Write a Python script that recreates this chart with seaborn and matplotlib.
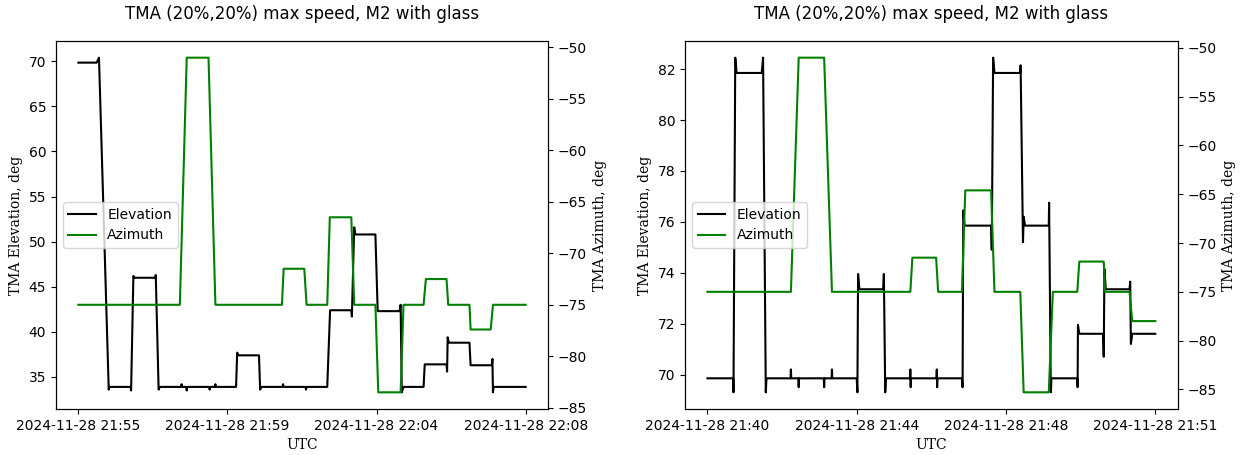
import numpy as np
import pandas as pd
import seaborn as sns
import matplotlib.pyplot as plt
import matplotlib.dates as mdates

# run 1: seconds after start, elevation / azimuth in deg
start1 = "2024-11-28 21:55:30"
dur1 = 780
el_t1 = [0, 32, 36, 53, 54, 91, 92, 96, 98, 134, 135, 140, 142, 179, 180, 181, 188, 189, 190,
         228, 229, 230, 238, 239, 240, 275, 277, 279, 315, 317, 319, 356, 357, 358, 396, 397, 398,
         434, 439, 476, 477, 481, 483, 518, 522, 560, 562, 564, 567, 602, 604, 642, 643, 644, 646,
         682, 684, 721, 722, 723, 724, 780]
el_v1 = [69.85, 69.85, 70.4, 33.6, 33.9, 33.9, 33.5, 46.2, 46.0, 46.0, 46.3, 33.6, 33.9, 33.9, 34.2, 33.9, 33.9, 33.5, 33.9,
         33.9, 33.6, 33.9, 33.9, 34.2, 33.9, 33.9, 37.7, 37.4, 37.4, 33.6, 33.9, 33.9, 34.2, 33.9, 33.9, 33.6, 33.9,
         33.9, 42.4, 42.4, 41.7, 51.6, 50.8, 50.8, 42.3, 42.3, 43.0, 33.3, 33.9, 33.9, 36.4, 36.4, 35.6, 39.4, 38.8,
         38.8, 36.3, 36.3, 37.0, 33.3, 33.9, 33.9]
az_t1 = [0, 177, 189, 227, 239, 355, 358, 394, 398, 434, 438.5, 476, 481, 518, 523, 562, 567,
         602, 606, 642, 645, 682, 684, 719, 723, 780]
az_v1 = [-75, -75, -51, -51, -75, -75, -71.5, -71.5, -75, -75, -66.5, -66.5, -75, -75, -83.5, -83.5, -75,
         -75, -72.5, -72.5, -75, -75, -77.4, -77.4, -75, -75]

# run 2
start2 = "2024-11-28 21:40:50"
dur2 = 660
el_t2 = [0, 38, 38.4, 41, 43, 80, 82, 86, 87,
         122.5, 123, 123.5, 134, 134.5, 135, 171.5, 172, 172.5, 183, 183.5, 184,
         220, 221, 222, 224, 259, 260, 262, 263, 298.5, 299, 299.5, 300, 337.5, 338, 338.5, 339,
         375, 376, 377, 379, 418, 419, 421, 423, 461, 461.5, 465, 466, 468, 503, 503.5, 506, 507,
         545, 545.5, 546, 548, 583, 584, 585, 587, 622, 623, 624, 626, 660]
el_v2 = [69.85, 69.85, 69.3, 82.45, 81.85, 81.85, 82.45, 69.3, 69.85,
         69.85, 70.2, 69.85, 69.85, 69.5, 69.85, 69.85, 69.5, 69.85, 69.85, 70.2, 69.85,
         69.85, 69.3, 73.95, 73.35, 73.35, 73.95, 69.3, 69.85, 69.85, 70.2, 69.5, 69.85, 69.85, 70.2, 69.5, 69.85,
         69.85, 69.5, 76.45, 75.85, 75.85, 74.9, 82.45, 81.85, 81.85, 82.15, 75.2, 76.2, 75.85, 75.85, 76.75, 69.3, 69.85,
         69.85, 69.5, 71.95, 71.6, 71.6, 70.7, 74.15, 73.35, 73.35, 73.65, 71.2, 71.6, 71.6]
az_t2 = [0, 123, 134.5, 172, 183.5, 299, 302, 337, 340, 375, 380, 418, 423, 461, 466, 503, 509,
         545, 548, 584, 586, 622, 626, 660]
az_v2 = [-75, -75, -51, -51, -75, -75, -71.5, -71.5, -75, -75, -64.6, -64.6, -75, -75, -85.3, -85.3, -75,
         -75, -71.9, -71.9, -75, -75, -78, -78]

runs = [(start1, dur1, el_t1, el_v1, az_t1, az_v1),
        (start2, dur2, el_t2, el_v2, az_t2, az_v2)]

fig = plt.figure(figsize=(12.41, 4.55), dpi=100)
rects = [[0.0451, 0.101, 0.3965, 0.809], [0.552, 0.101, 0.397, 0.809]]
serif = {'family': 'DejaVu Serif', 'size': 10}

for rect, (start, dur, el_t, el_v, az_t, az_v) in zip(rects, runs):
    t0 = pd.Timestamp(start)
    el = pd.DataFrame({'time': t0 + pd.to_timedelta(el_t, unit='s'), 'elevation': el_v})
    az = pd.DataFrame({'time': t0 + pd.to_timedelta(az_t, unit='s'), 'azimuth': az_v})

    ax = fig.add_axes(rect)
    ax2 = ax.twinx()
    sns.lineplot(data=el, x='time', y='elevation', ax=ax, color='black',
                 estimator=None, sort=False, label='Elevation', legend=False)
    sns.lineplot(data=az, x='time', y='azimuth', ax=ax2, color='green',
                 estimator=None, sort=False, label='Azimuth', legend=False)

    ticks = pd.date_range(t0, t0 + pd.Timedelta(seconds=dur), periods=4)
    ax.set_xticks(mdates.date2num(ticks))
    ax.xaxis.set_major_formatter(mdates.DateFormatter('%Y-%m-%d %H:%M'))

    ax.set_title("TMA (20%,20%) max speed, M2 with glass", fontsize=12, pad=16)
    ax.set_xlabel("UTC", fontdict=serif)
    ax.set_ylabel("TMA Elevation, deg", fontdict=serif)
    ax2.set_ylabel("TMA Azimuth, deg", fontdict=serif)

    h1, l1 = ax.get_legend_handles_labels()
    h2, l2 = ax2.get_legend_handles_labels()
    ax2.legend(h1 + h2, l1 + l2, loc='center left')

fig.savefig("out.png", dpi=100)
